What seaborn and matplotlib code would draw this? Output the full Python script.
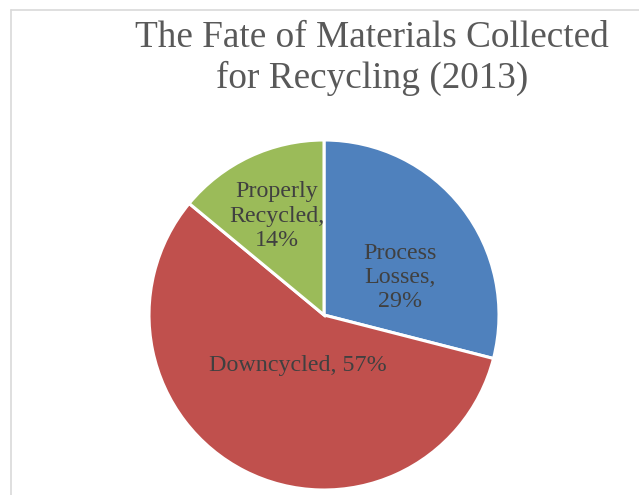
import matplotlib
matplotlib.use("Agg")
import matplotlib.pyplot as plt
import seaborn as sns

categories = ["Process Losses", "Downcycled", "Properly Recycled"]
shares = [29, 57, 14]
colors = ["#4F81BD", "#C0504D", "#9BBB59"]
title_lines = ["The Fate of Materials Collected", "for Recycling (2013)"]

sns.set_theme(style="white")
plt.rcParams['font.family'] = ['Liberation Serif', 'DejaVu Serif']

W, H = 639, 495
fig = plt.figure(figsize=(W / 100, H / 100), dpi=100)
ax = fig.add_axes([0, 0, 1, 1])

cx, cy, r = 324, H - 315, 175
wedges, _ = ax.pie(shares, colors=colors, startangle=90, counterclock=False,
                   center=(cx, cy), radius=r, frame=True,
                   wedgeprops=dict(edgecolor="white", linewidth=2.2))
ax.set_xlim(0, W)
ax.set_ylim(0, H)
ax.set_aspect("equal")
ax.axis("off")

# label offsets (fraction of radius) for each slice
offsets = [(0.435, 0.215), (-0.15, -0.29), (-0.27, 0.565)]
for name, val, (ox, oy) in zip(categories, shares, offsets):
    if name == "Downcycled":
        txt = f"{name}, {val}%"
    else:
        parts = name.split(" ")
        txt = f"{parts[0]}\n{parts[1]},\n{val}%"
    ax.text(cx + ox * r, cy + oy * r, txt, ha="center", va="center",
            fontsize=17.3, color="#404040", linespacing=1.2)

fig.text(372 / W, 1 - 58 / H, "\n".join(title_lines), ha="center", va="center",
         fontsize=26.8, color="#595959", linespacing=1.2)

# chart area border (left and top visible)
fig.add_artist(plt.Line2D([10.5 / W, 10.5 / W], [0, 1 - 9.5 / H],
                          transform=fig.transFigure, color="#D9D9D9", lw=1.2))
fig.add_artist(plt.Line2D([10.5 / W, 1], [1 - 9.5 / H, 1 - 9.5 / H],
                          transform=fig.transFigure, color="#D9D9D9", lw=1.2))

fig.savefig("out.png", dpi=100)
